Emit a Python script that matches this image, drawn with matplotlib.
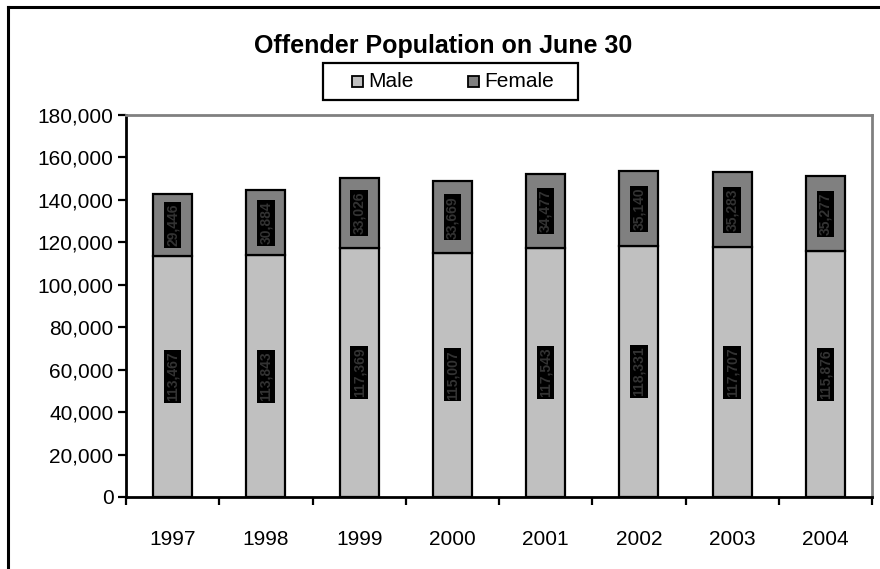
import matplotlib
matplotlib.use("Agg")
import matplotlib.pyplot as plt
from matplotlib.lines import Line2D
from matplotlib.patches import Rectangle
from matplotlib.ticker import FuncFormatter, FixedLocator
import numpy as np

plt.rcParams['font.family'] = ['Liberation Sans', 'DejaVu Sans']

years = ["1997", "1998", "1999", "2000", "2001", "2002", "2003", "2004"]
male = [113467, 113843, 117369, 115007, 117543, 118331, 117707, 115876]
female = [29446, 30884, 33026, 33669, 34477, 35140, 35283, 35277]
series_names = ["Male", "Female"]
series_colors = ["#C0C0C0", "#808080"]

W, H = 880, 569
fig = plt.figure(figsize=(W / 100, H / 100), dpi=100)
fig.patch.set_facecolor("white")


def fx(px):
    return px / W


def fy(py):
    return 1 - py / H


# outer chart frame (top and left edges)
fig.add_artist(Line2D([fx(7.5), fx(7.5)], [0, fy(6.5)], color="black", lw=2.2,
                      transform=fig.transFigure))
fig.add_artist(Line2D([fx(7.5), 1], [fy(6.5), fy(6.5)], color="black", lw=2.2,
                      transform=fig.transFigure))

ax = fig.add_axes([fx(126), fy(497), 746 / W, 382 / H])
x = np.arange(len(years))
bw = 0.42
ax.bar(x, male, bw, color=series_colors[0], edgecolor="black", linewidth=1.6, zorder=2)
ax.bar(x, female, bw, bottom=male, color=series_colors[1], edgecolor="black",
       linewidth=1.6, zorder=2)

lab_kw = dict(rotation=90, ha="center", va="center", fontsize=10, color="#333333",
              fontweight="bold", zorder=3,
              bbox=dict(boxstyle="square,pad=0.12", facecolor="black", edgecolor="none"))
for i in range(len(years)):
    ax.text(x[i], male[i] / 2, f"{male[i]:,}", **lab_kw)
    ax.text(x[i], male[i] + female[i] / 2, f"{female[i]:,}", **lab_kw)

ax.set_xlim(-0.5, len(years) - 0.5)
ax.set_ylim(0, 180000)
ax.set_yticks(np.arange(0, 180001, 20000))
ax.yaxis.set_major_formatter(FuncFormatter(lambda v, p: f"{int(v):,}"))
ax.set_xticks(x)
ax.set_xticklabels(years)
ax.xaxis.set_minor_locator(FixedLocator(np.arange(-0.5, len(years), 1.0)))
ax.tick_params(axis="x", which="major", length=0, pad=24, labelsize=15)
ax.tick_params(axis="x", which="minor", length=6, width=1.6, direction="out")
ax.tick_params(axis="y", length=6, width=1.6, direction="out", labelsize=15, pad=3)

for s in ["left", "bottom"]:
    ax.spines[s].set_color("black")
    ax.spines[s].set_linewidth(2)
for s in ["top", "right"]:
    ax.spines[s].set_color("#808080")
    ax.spines[s].set_linewidth(2)

fig.text(fx(443), fy(46), "Offender Population on June 30", ha="center", va="center",
         fontsize=18, fontweight="bold")

# legend box with two square swatches
fig.add_artist(Rectangle((fx(323), fy(100)), (578 - 323) / W, 37 / H, facecolor="white",
                         edgecolor="black", lw=1.6, transform=fig.transFigure))
sw = 11
for (mx, tx), name, col in zip([(352, 368), (468, 484)], series_names, series_colors):
    fig.add_artist(Rectangle((fx(mx), fy(81 + sw / 2)), sw / W, sw / H, facecolor=col,
                             edgecolor="black", lw=1.3, transform=fig.transFigure))
    fig.text(fx(tx), fy(81.5), name, ha="left", va="center", fontsize=15)

fig.savefig("out.png", dpi=100, facecolor="white")
